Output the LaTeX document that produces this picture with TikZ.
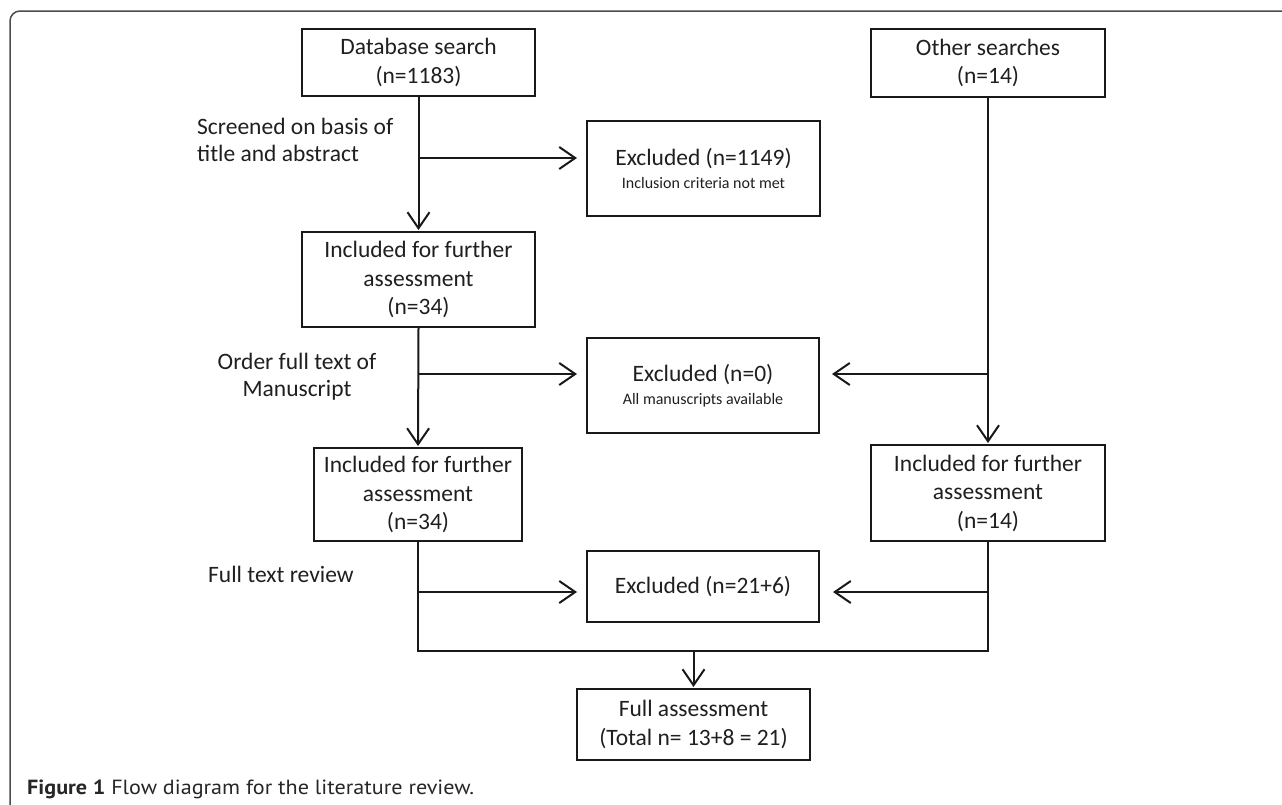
\documentclass[tikz,border=0pt]{standalone}
\usepackage{fontspec}
\setmainfont{Carlito}
\newfontfamily\capfont{PT Sans}
\usetikzlibrary{arrows.meta}
\begin{document}
\begin{tikzpicture}[x=1pt,y=-1pt,
  box/.style={draw=black!90, line width=2pt, minimum width=#1, inner sep=0pt, align=center,
    font=\fontsize{23.5}{28.5}\selectfont, text=black!88},
  lbl/.style={inner sep=0pt, font=\fontsize{23.5}{27}\selectfont, text=black!88},
  arr/.style={draw=black!90, line width=2pt, -{Straight Barb[length=16pt,width=22pt]}},
  ln/.style={draw=black!90, line width=2pt}]
\useasboundingbox (0,0) rectangle (1282,804);
\draw[black!70, line width=1.5pt, rounded corners=10pt] (1282,11) -- (10,11) -- (10,806);

% boxes
\node[box=233pt, minimum height=67pt] (db) at (418.5,62.5) {Database search\\(n=1183)};
\node[box=233pt, minimum height=95pt] (inc1) at (418.5,279.5) {Included for further\\assessment\\(n=34)};
\node[box=208pt, minimum height=93pt] (inc2) at (418,494.5) {Included for further\\assessment\\(n=34)};
\node[box=234pt, minimum height=68pt] (other) at (988,63) {Other searches\\(n=14)};
\node[box=234pt, minimum height=96pt] (incR) at (988,493) {Included for further\\assessment\\(n=14)};
\node[box=233pt, minimum height=95pt] (ex1) at (703.5,168.5) {Excluded (n=1149)\\[-6pt]{\fontsize{16}{20}\selectfont Inclusion criteria not met}};
\node[box=232pt, minimum height=95pt] (ex2) at (703,385.5) {Excluded (n=0)\\[-6pt]{\fontsize{16}{20}\selectfont All manuscripts available}};
\node[box=232pt, minimum height=71pt] (ex3) at (703,586.5) {Excluded (n=21+6)};
\node[box=233pt, minimum height=71pt] (full) at (693.5,724.5) {Full assessment\\(Total n= 13+8 = 21)};

% labels
\node[lbl, anchor=west, align=left] (l1) at (197,140) {Screened on basis of\\title and abstract};
\node[lbl, align=center] (l2) at (297,377) {Order full text of\\Manuscript};
\node[lbl, anchor=west] (l3) at (208,574) {Full text review};

% caption
\node[anchor=west, inner sep=0pt, font=\capfont\fontsize{20.5}{24}\selectfont, text=black!85] (cap) at (27,789) {\scalebox{1.08}[1]{\textbf{Figure 1} Flow diagram for the literature review.}};

% coordinates
\coordinate (b1) at (418.5,158);
\coordinate (b2) at (418.5,374);
\coordinate (b3) at (988,374);
\coordinate (b4) at (418,592);
\coordinate (b5) at (988,592);
\coordinate (jl) at (418,651);
\coordinate (jm) at (693.5,651);
\coordinate (jr) at (988,651);

% connectors
\draw[arr, shorten >=1pt] (db.south) -- (inc1.north);
\draw[arr, shorten >=9pt] (b1) -- (b1 -| ex1.west);
\draw[arr, shorten >=1pt] (inc1.south) -- (inc2.north);
\draw[arr, shorten >=9pt] (b2) -- (b2 -| ex2.west);
\draw[arr, shorten >=1pt] (other.south) -- (incR.north);
\draw[arr, shorten >=12pt] (b3) -- (b3 -| ex2.east);
\draw[ln] (inc2.south) -- (jl) -- (jr) -- (incR.south);
\draw[arr, shorten >=9pt] (b4) -- (b4 -| ex3.west);
\draw[arr, shorten >=13pt] (b5) -- (b5 -| ex3.east);
\draw[arr, shorten >=1pt] (jm) -- (full.north);
\end{tikzpicture}
\end{document}
